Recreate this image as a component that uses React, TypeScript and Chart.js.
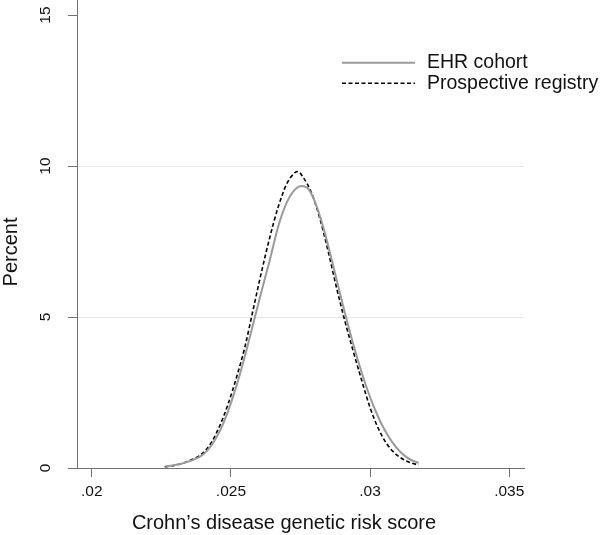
import React, { useEffect, useRef } from "react";
import { Chart, registerables } from "chart.js";

Chart.register(...registerables);

const FONT = "'Liberation Sans', Arial, sans-serif";

// EHR cohort (solid grey) density
const ehrX = [0.02264, 0.0230, 0.0235, 0.0240, 0.0243, 0.0246, 0.0249, 0.0252, 0.0255, 0.0258, 0.0261, 0.0264, 0.0267, 0.0270, 0.0273, 0.02755, 0.0278, 0.0281, 0.0284, 0.0287, 0.0290, 0.0293, 0.0296, 0.0299, 0.0302, 0.0305, 0.0308, 0.0311, 0.0314, 0.03175];
const ehrY = [0.05, 0.10, 0.22, 0.45, 0.75, 1.22, 1.89, 2.72, 3.70, 4.78, 5.85, 6.90, 8.00, 8.78, 9.22, 9.34, 9.22, 8.62, 7.70, 6.60, 5.48, 4.42, 3.45, 2.60, 1.88, 1.30, 0.85, 0.52, 0.30, 0.17];

// Prospective registry (dashed black) density
const regX = [0.02262, 0.0230, 0.0235, 0.0240, 0.0243, 0.0246, 0.0249, 0.0252, 0.0255, 0.0258, 0.0261, 0.0264, 0.0267, 0.0270, 0.0273, 0.0274, 0.0276, 0.0279, 0.0282, 0.0285, 0.0288, 0.0291, 0.0294, 0.0297, 0.0300, 0.0303, 0.0306, 0.0309, 0.0312, 0.0315, 0.03175];
const regY = [0.04, 0.09, 0.24, 0.50, 0.85, 1.40, 2.12, 3.00, 4.00, 5.25, 6.50, 7.65, 8.65, 9.40, 9.78, 9.82, 9.62, 9.10, 8.25, 7.15, 5.95, 4.85, 3.85, 2.90, 2.00, 1.30, 0.80, 0.48, 0.28, 0.16, 0.10];

const seriesLabels = ["EHR cohort", "Prospective registry"];
const xTitle = "Crohn\u2019s disease genetic risk score";
const yTitle = "Percent";
const xMin = 0.01947;
const xMax = 0.03553;
const xStep = 0.005;
const yMin = 0;
const yMax = 15.5;
const yStep = 5;
const yGridValues = [5, 10];

const AXIS = "#707070";
const TEXT = "#111";

const textPlugin = {
  id: "rotatedLabelsAndTitles",
  afterDraw(chart: any) {
    const ctx = chart.ctx;
    const ys = chart.scales.y;
    ctx.save();
    ctx.fillStyle = TEXT;
    ctx.textAlign = "center";
    ctx.textBaseline = "middle";
    // y tick labels, rotated
    ctx.font = `15.5px ${FONT}`;
    ys.ticks.forEach((t: any) => {
      const py = ys.getPixelForValue(t.value);
      ctx.save();
      ctx.translate(45.5, py);
      ctx.rotate(-Math.PI / 2);
      ctx.fillText(String(t.value), 0, 0);
      ctx.restore();
    });
    // axis titles
    ctx.font = `20px ${FONT}`;
    ctx.save();
    ctx.translate(11, 252);
    ctx.rotate(-Math.PI / 2);
    ctx.fillText(yTitle, 0, 0);
    ctx.restore();
    ctx.fillText(xTitle, 284, 523);
    ctx.restore();
  },
};

const legendPlugin = {
  id: "insideLegend",
  afterDraw(chart: any) {
    const ctx = chart.ctx;
    const rows = [62.7, 83.3];
    ctx.save();
    chart.data.datasets.forEach((ds: any, i: number) => {
      const y = rows[i];
      ctx.beginPath();
      ctx.strokeStyle = ds.borderColor;
      ctx.lineWidth = ds.borderWidth;
      ctx.setLineDash(ds.borderDash || []);
      ctx.moveTo(342, y);
      ctx.lineTo(415, y);
      ctx.stroke();
      ctx.setLineDash([]);
      ctx.fillStyle = TEXT;
      ctx.font = `19.5px ${FONT}`;
      ctx.textAlign = "left";
      ctx.textBaseline = "middle";
      ctx.fillText(ds.label, 427, y);
    });
    ctx.restore();
  },
};

export default function App() {
  const ref = useRef<HTMLCanvasElement | null>(null);
  useEffect(() => {
    document.body.style.margin = "0";
    if (!ref.current) return;
    Chart.defaults.font.family = FONT;
    const chart = new Chart(ref.current, {
      type: "line",
      data: {
        datasets: [
          {
            label: seriesLabels[0],
            data: ehrX.map((x, i) => ({ x, y: ehrY[i] })),
            borderColor: "#9a9a9a",
            borderWidth: 2,
            pointRadius: 0,
            cubicInterpolationMode: "monotone",
            fill: false,
          },
          {
            label: seriesLabels[1],
            data: regX.map((x, i) => ({ x, y: regY[i] })),
            borderColor: "#000000",
            borderWidth: 1.6,
            borderDash: [4, 2.5],
            pointRadius: 0,
            cubicInterpolationMode: "monotone",
            fill: false,
          },
        ],
      },
      options: {
        animation: false,
        responsive: false,
        layout: { padding: { left: 0, right: 76, top: 0, bottom: 0 } },
        plugins: { legend: { display: false }, tooltip: { enabled: false } },
        scales: {
          x: {
            type: "linear",
            min: xMin,
            max: xMax,
            afterFit: (s: any) => {
              s.height = 67;
            },
            ticks: {
              stepSize: xStep,
              includeBounds: false,
              autoSkip: false,
              maxRotation: 0,
              padding: 5,
              color: TEXT,
              font: { size: 15.5, family: FONT },
              callback: (v: any) => Number(v).toFixed(3).replace(/0+$/, "").replace(/^0/, ""),
            },
            grid: { drawOnChartArea: false, drawTicks: true, tickLength: 9, tickColor: AXIS, color: AXIS },
            border: { display: true, color: AXIS, width: 1 },
            title: { display: false },
          },
          y: {
            type: "linear",
            min: yMin,
            max: yMax,
            afterFit: (s: any) => {
              s.width = 77;
            },
            ticks: { stepSize: yStep, includeBounds: false, display: false },
            grid: {
              drawTicks: true,
              tickLength: 9,
              tickColor: AXIS,
              color: (c: any) => (c.tick && yGridValues.includes(c.tick.value) ? "#e6e6e6" : "rgba(0,0,0,0)"),
            },
            border: { display: true, color: AXIS, width: 1 },
            title: { display: false },
          },
        },
      },
      plugins: [textPlugin, legendPlugin],
    } as any);
    return () => chart.destroy();
  }, []);
  return (
    <div style={{ width: 600, height: 535 }}>
      <canvas ref={ref} width={600} height={535} />
    </div>
  );
}
